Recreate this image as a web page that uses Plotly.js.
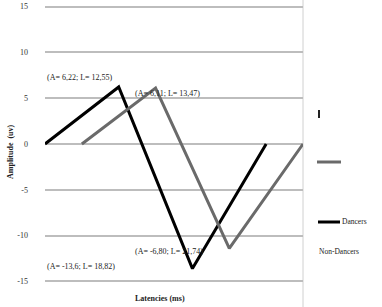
<!DOCTYPE html>
<html><head><meta charset="utf-8">
<script src="https://cdn.plot.ly/plotly-3.0.1.min.js"></script>
<style>html,body{margin:0;padding:0;background:#fff}#c{width:382px;height:307px}</style>
</head><body><div id="c"></div>
<script>
// Data (sample positions along the latency axis, amplitudes in uV)
const dancersX = [0, 2, 4, 6];
const dancersY = [0, 6.22, -13.6, 0];
const nonDancersX = [1, 3, 5, 7];
const nonDancersY = [0, 6.11, -11.4, 0];
const yTicks = [-15, -10, -5, 0, 5, 10, 15];
const labelTexts = ["(A= 6,22; L= 12,55)", "(A= 6,11; L= 13,47)", "(A= -13,6; L= 18,82)", "(A= -6,80; L= 21,74)"];
const seriesNames = ["Dancers", "Non-Dancers"];

const W = 382, H = 307, L = 45, R = 303, T = 2, B = 286;
const px = x => (x - L) / (R - L);
const py = y => (B - y) / (B - T);
const serif = "Liberation Serif, Times New Roman, serif";

const traces = [
  {x: dancersX, y: dancersY, mode: 'lines', name: seriesNames[0], line: {color: '#000000', width: 3}},
  {x: nonDancersX, y: nonDancersY, mode: 'lines', name: seriesNames[1], line: {color: '#6a6a6a', width: 3}}
];

const ann = (text, x, y, extra) => Object.assign({text, xref: 'paper', yref: 'paper', x: px(x), y: py(y),
  xanchor: 'left', yanchor: 'middle', showarrow: false, font: {family: serif, size: 8, color: '#222'}}, extra || {});

const annotations = [
  ann(labelTexts[0], 45, 77),
  ann(labelTexts[1], 133, 93),
  ann(labelTexts[2], 45, 266),
  ann(labelTexts[3], 133, 251),
  ann('<b>Amplitude  (uv)</b>', 10, 152, {xanchor: 'center', textangle: -90}),
  ann('<b>Latencies (ms)</b>', 160, 298, {xanchor: 'center'}),
  ann(seriesNames[0], 340, 221, {font: {family: serif, size: 7.5, color: '#222'}}),
  ann(seriesNames[1], 317, 251, {font: {family: serif, size: 7.5, color: '#222'}})
];

const shapes = [
  {type: 'line', xref: 'paper', yref: 'paper', x0: px(303), x1: px(303), y0: py(307), y1: py(0), line: {color: '#d0d0d0', width: 1}, layer: 'below'},
  {type: 'line', xref: 'paper', yref: 'paper', x0: px(319), x1: px(319), y0: py(110), y1: py(118), line: {color: '#222', width: 2}},
  {type: 'line', xref: 'paper', yref: 'paper', x0: px(317), x1: px(341), y0: py(162), y1: py(162), line: {color: '#6a6a6a', width: 3}},
  {type: 'line', xref: 'paper', yref: 'paper', x0: px(318), x1: px(340), y0: py(222), y1: py(222), line: {color: '#000', width: 3}}
];

const layout = {
  width: W, height: H,
  margin: {l: L, r: W - R, t: T, b: H - B, pad: 0},
  paper_bgcolor: '#fff', plot_bgcolor: '#fff',
  showlegend: false,
  xaxis: {range: [0, 7], showgrid: false, zeroline: false, showticklabels: false, ticks: '', showline: false},
  yaxis: {range: [-15.5, 15.5], tickmode: 'array', tickvals: yTicks, ticktext: yTicks.map(String), showgrid: true,
    gridcolor: '#bdbdbd', gridwidth: 2,
    zeroline: false, ticks: '', showline: false, ticklabelstandoff: 16,
    tickfont: {family: serif, size: 8, color: '#333'}},
  annotations, shapes
};
Plotly.newPlot('c', traces, layout, {staticPlot: true, displayModeBar: false});
</script></body></html>
